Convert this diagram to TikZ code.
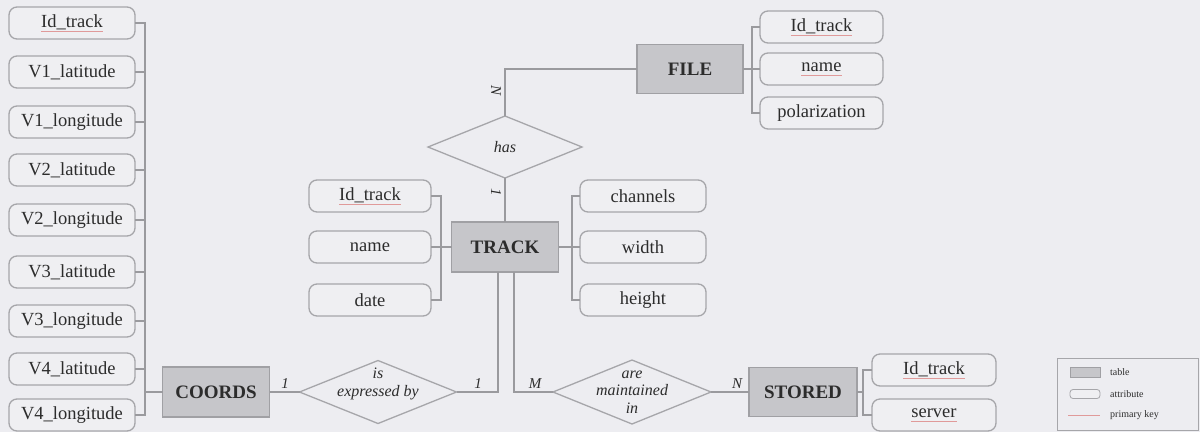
\documentclass[tikz,border=0pt]{standalone}
\usepackage{fontspec}
\setmainfont{Liberation Serif}
\usetikzlibrary{shapes.geometric}
\definecolor{bg}{HTML}{EDEDF1}
\definecolor{attrfill}{HTML}{EFEFF2}
\definecolor{attrline}{HTML}{A6A6AA}
\definecolor{tabfill}{HTML}{C6C6CA}
\definecolor{tabline}{HTML}{A0A0A4}
\definecolor{connc}{HTML}{9A9A9E}
\definecolor{txt}{HTML}{2C2C2C}
\definecolor{pkred}{HTML}{E09A9A}
\newcommand\pkey[1]{\setbox0\hbox{#1}\rlap{\copy0}{\color{pkred}\rule[-4pt]{\wd0}{0.8pt}}}
\tikzset{
  attrbox/.style={draw=attrline, line width=1.3pt, fill=attrfill, rounded corners=8pt, minimum height=32pt, inner sep=0pt, outer sep=0pt, font=\fontsize{18.5}{20}\selectfont, text=txt},
  tablebox/.style={draw=tabline, line width=1.3pt, fill=tabfill, minimum height=50pt, inner sep=0pt, outer sep=0pt, font=\fontsize{19}{21}\selectfont\bfseries, text=txt},
  relbox/.style={diamond, draw=attrline, line width=1.3pt, fill=bg, inner sep=0pt, outer sep=0pt},
  reltext/.style={font=\fontsize{16}{17.5}\selectfont\itshape, text=txt, align=center, inner sep=0pt},
  card/.style={font=\fontsize{15}{15}\selectfont\itshape, text=txt, inner sep=0pt},
  link/.style={draw=connc, line width=1.3pt},
  legtext/.style={font=\fontsize{10}{11}\selectfont, text=txt, anchor=west, inner sep=0pt}
}
\begin{document}
\begin{tikzpicture}[x=1pt,y=-1pt]
\useasboundingbox (0,0) rectangle (1200,432);
\fill[bg] (0,0) rectangle (1200,432);

% COORDS and attributes
\coordinate (cbus) at (145,392);
\node[tablebox, minimum width=107pt] (coords) at (216,392) {COORDS};
\node[attrbox, minimum width=126pt] (c1) at (72,23) {\pkey{Id\_track}};
\node[attrbox, minimum width=126pt] (c2) at (72,72) {V1\_latitude};
\node[attrbox, minimum width=126pt] (c3) at (72,122) {V1\_longitude};
\node[attrbox, minimum width=126pt] (c4) at (72,170) {V2\_latitude};
\node[attrbox, minimum width=126pt] (c5) at (72,220) {V2\_longitude};
\node[attrbox, minimum width=126pt] (c6) at (72,272) {V3\_latitude};
\node[attrbox, minimum width=126pt] (c7) at (72,321) {V3\_longitude};
\node[attrbox, minimum width=126pt] (c8) at (72,369) {V4\_latitude};
\node[attrbox, minimum width=126pt] (c9) at (72,415) {V4\_longitude};
\foreach \n in {c1,c2,c3,c4,c5,c6,c7,c8,c9}
  \draw[link] (\n.east) -- (\n.east -| cbus) |- (coords.west);

% TRACK and attributes
\node[tablebox, minimum width=107pt] (track) at (505,247) {TRACK};
\coordinate (tlbus) at (441,247);
\coordinate (trbus) at (572,247);
\node[attrbox, minimum width=122pt] (t1) at (370,196) {\pkey{Id\_track}};
\node[attrbox, minimum width=122pt] (t2) at (370,247) {name};
\node[attrbox, minimum width=122pt] (t3) at (370,300) {date};
\node[attrbox, minimum width=126pt] (t4) at (643,196) {channels};
\node[attrbox, minimum width=126pt] (t5) at (643,247) {width};
\node[attrbox, minimum width=126pt] (t6) at (643,300) {height};
\foreach \n in {t1,t2,t3}
  \draw[link] (\n.east) -- (\n.east -| tlbus) |- (track.west);
\foreach \n in {t4,t5,t6}
  \draw[link] (\n.west) -- (\n.west -| trbus) |- (track.east);

% FILE and attributes
\node[tablebox, minimum width=106pt, minimum height=49pt] (file) at (690,69) {FILE};
\coordinate (fbus) at (752,69);
\node[attrbox, minimum width=123pt] (f1) at (821.5,27) {\pkey{Id\_track}};
\node[attrbox, minimum width=123pt] (f2) at (821.5,69) {\pkey{name}};
\node[attrbox, minimum width=123pt] (f3) at (821.5,113) {polarization};
\foreach \n in {f1,f2,f3}
  \draw[link] (\n.west) -- (\n.west -| fbus) |- (file.east);

% has
\node[relbox, minimum width=154pt, minimum height=62pt] (has) at (505,147) {};
\node[reltext] (hast) at (has) {has};
\draw[link] (has.north) |- (file.west);
\draw[link] (has.south) -- (track.north);
\node[card, rotate=-90] (lhN) at (496,90) {N};
\node[card, rotate=-90] (lh1) at (496,192) {1};

% is expressed by
\node[relbox, minimum width=157pt, minimum height=63pt] (expr) at (378,392) {};
\node[reltext] (exprt) at (378,384) {is\\expressed by};
\draw[link] (coords.east) -- (expr.west);
\draw[link] (expr.east) -| ([xshift=-7pt]track.south);
\node[card] (le1) at (285,384) {1};
\node[card] (le2) at (478,384) {1};

% are maintained in
\node[relbox, minimum width=158pt, minimum height=64pt] (maint) at (632,392) {};
\node[reltext] (maintt) at (maint) {are\\maintained\\in};
\node[tablebox, minimum width=108pt, minimum height=49pt] (stored) at (803,392) {STORED};
\draw[link] ([xshift=9pt]track.south) |- (maint.west);
\draw[link] (maint.east) -- (stored.west);
\node[card] (lmM) at (535,384) {M};
\node[card] (lmN) at (737,384) {N};

% STORED attributes
\coordinate (sbus) at (863,392);
\node[attrbox, minimum width=124pt] (s1) at (934,370) {\pkey{Id\_track}};
\node[attrbox, minimum width=124pt] (s2) at (934,415) {\pkey{server}};
\foreach \n in {s1,s2}
  \draw[link] (\n.west) -- (\n.west -| sbus) |- (stored.east);

% legend
\node[draw=attrline, line width=1pt, fill=bg, minimum width=141pt, minimum height=72pt, inner sep=0pt] (legend) at (1128,394) {};
\node[draw=tabline, line width=0.8pt, fill=tabfill, minimum width=30pt, minimum height=10pt, inner sep=0pt] (lgt) at (1085,372) {};
\node[legtext] (lgtt) at (1110,372) {table};
\node[draw=attrline, line width=0.8pt, fill=attrfill, rounded corners=3pt, minimum width=30pt, minimum height=9pt, inner sep=0pt] (lga) at (1085,394) {};
\node[legtext] (lgat) at (1110,394) {attribute};
\coordinate (lgp1) at (1068,415);
\coordinate (lgp2) at (1100,415);
\draw[pkred, line width=0.8pt] (lgp1) -- (lgp2);
\node[legtext] (lgpt) at (1110,415) {primary key};
\end{tikzpicture}
\end{document}
